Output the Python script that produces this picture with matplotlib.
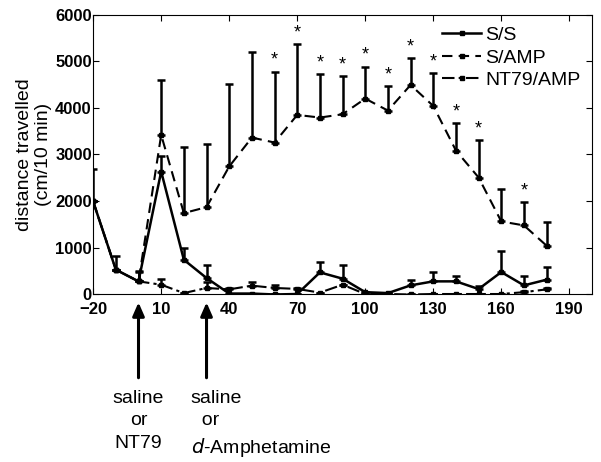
import numpy as np
import matplotlib
matplotlib.use('Agg')
import matplotlib.pyplot as plt
import matplotlib.transforms as mtransforms
from matplotlib.lines import Line2D

plt.rcParams['font.family'] = ['Liberation Sans', 'DejaVu Sans']

## DADOS
tempo = [-20, -10, 0, 10, 20, 30, 40, 50, 60, 70, 80, 90, 100, 110, 120, 130, 140, 150, 160, 170, 180]

ss_mean = [1990, 523, 272, 2634, 737, 344, 10, 10, -10, 0, 465, 330, 40, 20, 186, 272, 272, 107, 472, 186, 308]
ss_err = [694, 286, 215, 344, 251, 286, 0, 0, 0, 0, 222, 285, 0, 0, 107, 193, 122, 73, 444, 194, 265]

amp_mean = [1990, 523, 272, 3420, 1740, 1868, 2742, 3364, 3257, 3851, 3794, 3865, 4202, 3944, 4495, 4044, 3085, 2505, 1560, 1475, 1038]
amp_err = [0, 0, 200, 1183, 1417, 1353, 1775, 1847, 1525, 1518, 938, 824, 687, 530, 573, 702, 587, 809, 695, 508, 508]

nt_mean = [1990, 523, 272, 200, 20, 130, 100, 180, 130, 110, 30, 200, 0, 0, -10, 0, 0, 0, 0, 40, 100]
nt_err = [0, 0, 0, 120, 0, 120, 30, 80, 70, 30, 0, 0, 0, 0, 0, 0, 0, 0, 0, 20, 40]

asteriscos = [60, 70, 80, 90, 100, 110, 120, 130, 140, 150, 170]

fig = plt.figure(figsize=(6.01, 4.62), dpi=100)
ax = fig.add_axes([0.155, 0.3636, 0.83, 0.604])

series = [
    (ss_mean, ss_err, '-', 'S/S', 1.8),
    (amp_mean, amp_err, (0, (5, 3)), 'S/AMP', 1.5),
    (nt_mean, nt_err, (0, (6, 2, 1.5, 2)), 'NT79/AMP', 1.5),
]
handles = []
for mean, err, ls, lab, lw in series:
    ax.errorbar(tempo, mean, yerr=[np.zeros(len(err)), err], color='black', linestyle=ls,
                linewidth=lw, marker='s', markersize=3, elinewidth=1.8, capsize=3,
                capthick=1.8)
    handles.append(Line2D([0, 1], [0, 0], color='black', linestyle=ls, linewidth=lw,
                          marker='s', markersize=3, markevery=[1], label=lab))

# asteriscos de significancia
for t in asteriscos:
    i = tempo.index(t)
    ax.text(t, amp_mean[i] + amp_err[i] + 60, '*', ha='center', va='bottom', fontsize=13)

ax.set_xlim(-20, 200)
ax.set_ylim(0, 6000)
ax.set_xticks(range(-20, 200, 30))
ax.set_yticks(range(0, 6001, 1000))
ax.tick_params(direction='in', top=True, right=True, length=4, labelsize=12, pad=1)
ax.tick_params(axis='x', pad=6)
for lbl in ax.get_xticklabels() + ax.get_yticklabels():
    lbl.set_fontweight('bold')
ax.set_ylabel('distance travelled\n(cm/10 min)', fontsize=14, labelpad=2)

leg = ax.legend(handles=handles, loc='upper right', frameon=False, fontsize=14, handlelength=2.0,
                handletextpad=0.2, labelspacing=0.25, borderaxespad=0.2)

# setas de injecao
trans = mtransforms.blended_transform_factory(ax.transData, ax.transAxes)
for x in [0, 30]:
    ax.annotate('', xy=(x, -0.02), xytext=(x, -0.31), xycoords=trans, textcoords=trans,
                arrowprops=dict(arrowstyle='-|>,head_width=0.35,head_length=0.8',
                                color='black', lw=2.2), annotation_clip=False)

ax.text(0, -0.345, 'saline\nor\nNT79', transform=trans, ha='center', va='top',
        fontsize=14, linespacing=1.4, clip_on=False)
ax.text(23, -0.345, 'saline\n  or\n$d$-Amphetamine', transform=trans, ha='left', va='top',
        fontsize=14, linespacing=1.4, clip_on=False)

plt.savefig('out.png', dpi=100)
